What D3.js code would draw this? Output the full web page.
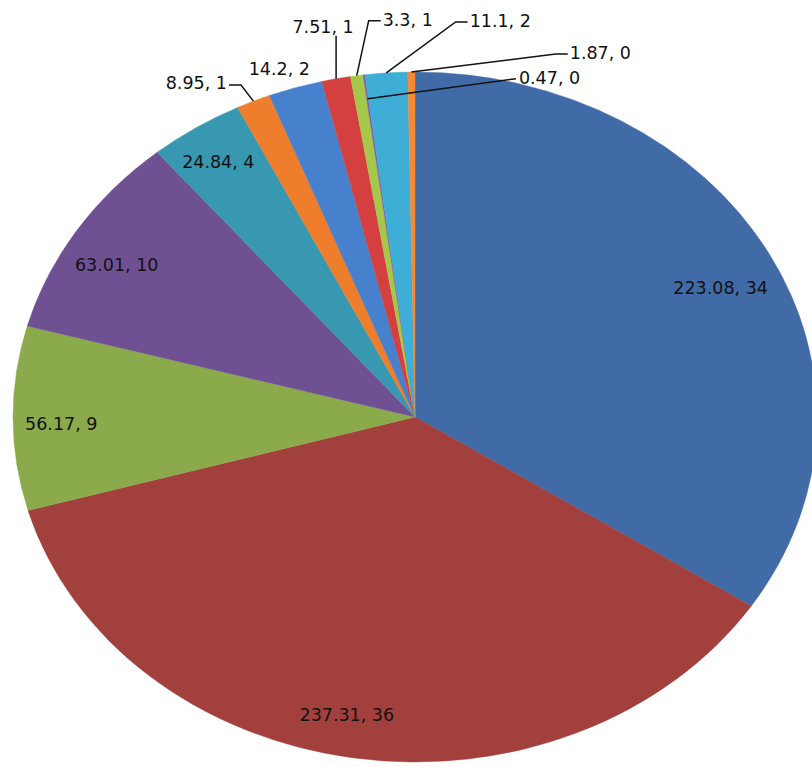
<!DOCTYPE html>
<html>
<head>
<meta charset="utf-8">
<script src="https://cdn.jsdelivr.net/npm/d3@7/dist/d3.min.js"></script>
<style>
  html, body { margin: 0; padding: 0; background: #ffffff; }
  svg { display: block; }
  text { font-family: "DejaVu Sans", Verdana, sans-serif; font-size: 17.5px; fill: #111; }
</style>
</head>
<body>
<svg id="chart" width="812" height="767"></svg>
<script>
// Slice values, clockwise from 12 o'clock
const values = [223.08, 237.31, 56.17, 63.01, 24.84, 8.95, 14.2, 7.51, 3.3, 0.47, 11.1, 1.87];
// Fill for each slice
const colors = ["#416BA6", "#A2403D", "#8BAA4C", "#6F5193", "#3898B2", "#EE7E2C",
                "#4780CC", "#D4403F", "#A5C84A", "#7E5AB0", "#3FAED6", "#F58A35"];

// Geometry of the (horizontally stretched) pie
const cx = 415, cy = 417, rx = 402, ry = 345;

// Inside labels sit at a fraction of the radius on the mid angle, with a small nudge
const insideFraction = 0.87;
const insideNudge = {
  0: { dx: -2,  dy: 13 },
  1: { dx: -15, dy: 1 },
  2: { dx: -4,  dy: 6 },
  3: { dx: -4,  dy: 10 },
  4: { dx: -6,  dy: -4 }
};
// Outside labels are offset from their anchor point and joined by a leader
const outsideLayout = {
  5:  { dx: -57, dy: -18, leader: "fromRight" },
  6:  { dx: -16, dy: -19, leader: "none" },
  7:  { dx: -13, dy: -52, leader: "below" },
  8:  { dx: 51,  dy: -56, leader: "fromLeft" },
  9:  { dx: 182, dy: -21, leader: "fromLeftStraight", anchorFraction: 0.93 },
  10: { dx: 114, dy: -52, leader: "fromLeft" },
  11: { dx: 189, dy: -19, leader: "fromLeft" }
};

const svg = d3.select("#chart");
const total = d3.sum(values);
const pct = v => Math.round(v / total * 100);

const pie = d3.pie().sort(null).value(d => d).startAngle(0).endAngle(2 * Math.PI);
const arcs = pie(values);
const arc = d3.arc().innerRadius(0).outerRadius(ry);

// Slices drawn on a circle and stretched horizontally into an ellipse
const pieG = svg.append("g")
  .attr("transform", `translate(${cx},${cy}) scale(${rx / ry},1)`);

pieG.selectAll("path")
  .data(arcs)
  .join("path")
  .attr("d", arc)
  .attr("fill", (d, i) => colors[i])
  .attr("stroke", (d, i) => colors[i])
  .attr("stroke-width", 0.4);

// Point on the ellipse at angle t (clockwise from top) and radius fraction f
const pointAt = (t, f) => [cx + rx * f * Math.sin(t), cy - ry * f * Math.cos(t)];

const labelG = svg.append("g");

arcs.forEach((a, i) => {
  const mid = (a.startAngle + a.endAngle) / 2;
  const txt = `${values[i]}, ${pct(values[i])}`;
  const layout = outsideLayout[i];
  if (!layout) {
    const [x, y] = pointAt(mid, insideFraction);
    const n = insideNudge[i] || { dx: 0, dy: 0 };
    labelG.append("text")
      .attr("x", x + n.dx).attr("y", y + n.dy).attr("dy", "0.36em")
      .attr("text-anchor", "middle")
      .text(txt);
    return;
  }
  const [ax, ay] = pointAt(mid, layout.anchorFraction || 1);
  const tx = ax + layout.dx, ty = ay + layout.dy;
  const t = labelG.append("text")
    .attr("x", tx).attr("y", ty).attr("dy", "0.36em")
    .attr("text-anchor", "middle")
    .text(txt);
  const w = t.node().getComputedTextLength();
  let pts = null;
  if (layout.leader === "fromRight") {
    const sx = tx + w / 2 + 2;
    pts = [[sx, ty + 2], [sx + 12, ty + 2], [ax, ay]];
  } else if (layout.leader === "fromLeft") {
    const sx = tx - w / 2 - 2;
    pts = [[sx, ty + 1], [sx - 12, ty + 1], [ax, ay]];
  } else if (layout.leader === "fromLeftStraight") {
    const sx = tx - w / 2 - 3;
    pts = [[sx, ty + 1], [ax, ay]];
  } else if (layout.leader === "below") {
    pts = [[ax, ty + 9], [ax, ay]];
  }
  if (pts) {
    labelG.append("path")
      .attr("d", d3.line()(pts))
      .attr("fill", "none")
      .attr("stroke", "#111")
      .attr("stroke-width", 1.5);
  }
});
</script>
</body>
</html>
